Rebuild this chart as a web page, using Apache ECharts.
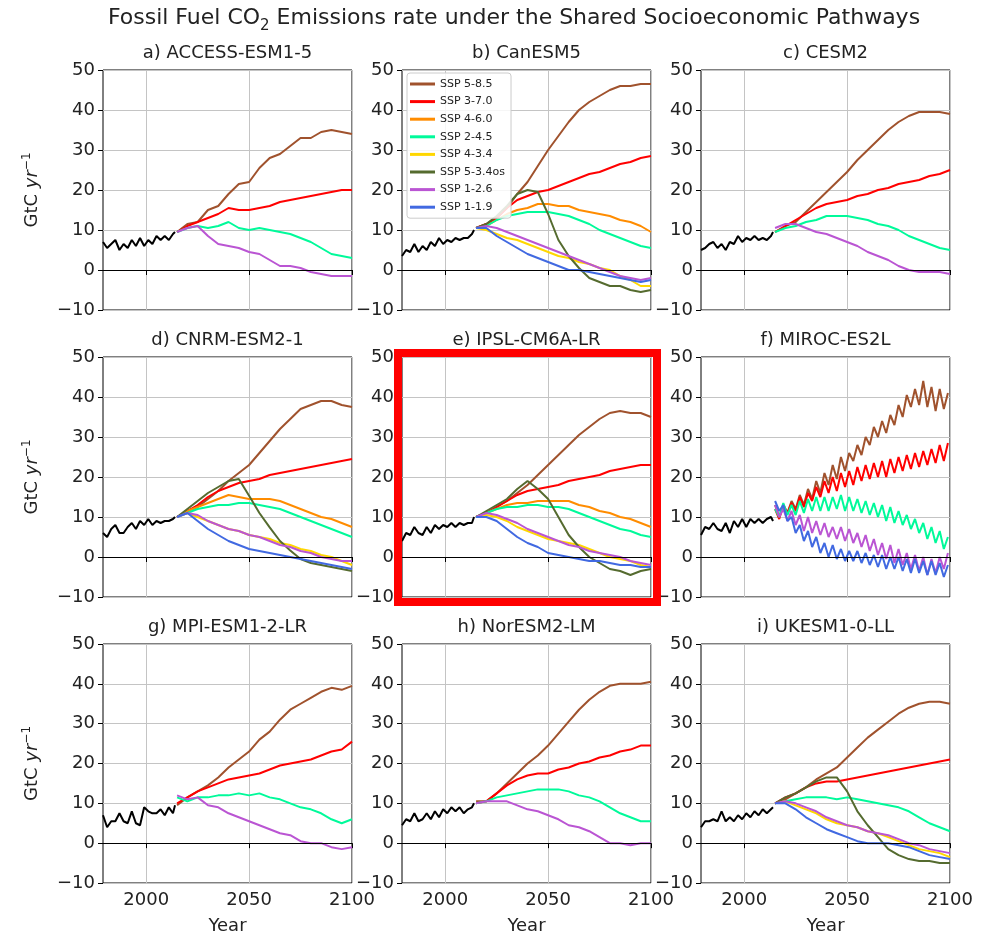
<!DOCTYPE html>
<html>
<head>
<meta charset="UTF-8">
<title>Fossil Fuel CO2 Emissions rate under the Shared Socioeconomic Pathways</title>
<script src="https://cdn.jsdelivr.net/npm/echarts@6/dist/echarts.min.js"></script>
</head>
<body style="margin:0;background:#fff;">
<div id="container" style="width:986px;height:936px;"></div>
<script>
// scenarios, in legend order
const scenarioNames = ['SSP 5-8.5', 'SSP 3-7.0', 'SSP 4-6.0', 'SSP 2-4.5', 'SSP 4-3.4', 'SSP 5-3.4os', 'SSP 1-2.6', 'SSP 1-1.9'];
const scenarioColors = ['#a0522d', '#ff0000', '#ff8c00', '#00fa9a', '#ffd700', '#556b2f', '#ba55d3', '#4169e1'];

const xTicks = [2000, 2050, 2100];

const histYears = [1979, 1981, 1983, 1985, 1987, 1989, 1991, 1993, 1995, 1997, 1999, 2001, 2003, 2005, 2007, 2009, 2011, 2013, 2014];
const futYears = [2015, 2020, 2025, 2030, 2035, 2040, 2045, 2050, 2055, 2060, 2065, 2070, 2075, 2080, 2085, 2090, 2095, 2100];
const mirocYears = [2015, 2017, 2019, 2021, 2023, 2025, 2027, 2029, 2031, 2033, 2035, 2037, 2039, 2041, 2043, 2045, 2047, 2049, 2051, 2053, 2055, 2057, 2059, 2061, 2063, 2065, 2067, 2069, 2071, 2073, 2075, 2077, 2079, 2081, 2083, 2085, 2087, 2089, 2091, 2093, 2095, 2097, 2099];

// a) ACCESS-ESM1-5
const accessHist = [7, 5.5, 6.5, 7.5, 5, 6.5, 5.5, 7.5, 6, 8, 6, 7.5, 6.5, 8.5, 7.5, 8.5, 7.5, 9, 9.5];
const access585 = [9.5, 11.5, 12, 15, 16, 19, 21.5, 22, 25.5, 28, 29, 31, 33, 33, 34.5, 35, 34.5, 34];
const access370 = [9.5, 11, 12, 13, 14, 15.5, 15, 15, 15.5, 16, 17, 17.5, 18, 18.5, 19, 19.5, 20, 20];
const access245 = [9.5, 10.5, 11, 10.5, 11, 12, 10.5, 10, 10.5, 10, 9.5, 9, 8, 7, 5.5, 4, 3.5, 3];
const access126 = [9.5, 10.5, 11, 8.5, 6.5, 6, 5.5, 4.5, 4, 2.5, 1, 1, 0.5, -0.5, -1, -1.5, -1.5, -1.5];

// b) CanESM5
const canesmHist = [3.5, 5, 4.5, 6.5, 4.5, 6, 5, 7, 6, 8, 6.5, 7.5, 7, 8, 7.5, 8, 8, 9, 10];
const canesm585 = [10.5, 11.5, 13, 15.5, 19, 22, 26, 30, 33.5, 37, 40, 42, 43.5, 45, 46, 46, 46.5, 46.5];
const canesm370 = [10.5, 11.5, 13, 15.5, 17.5, 18.5, 19.5, 20, 21, 22, 23, 24, 24.5, 25.5, 26.5, 27, 28, 28.5];
const canesm460 = [10.5, 11, 12.5, 14, 15, 15.5, 16.5, 16.5, 16, 16, 15, 14.5, 14, 13.5, 12.5, 12, 11, 9.5];
const canesm245 = [10.5, 11, 12.5, 13.5, 14, 14.5, 14.5, 14.5, 14, 13.5, 12.5, 11.5, 10, 9, 8, 7, 6, 5.5];
const canesm434 = [10.5, 10, 9, 8, 7.5, 6.5, 5.5, 4.5, 3.5, 3, 2, 1.5, 0.5, 0, -1.5, -2.5, -4, -4];
const canesm534 = [10.5, 11.5, 13.5, 16, 19, 20, 19.5, 14, 7.5, 3.5, 0.5, -2, -3, -4, -4, -5, -5.5, -5];
const canesm126 = [10.5, 11, 10.5, 9.5, 8.5, 7.5, 6.5, 5.5, 4.5, 3.5, 2.5, 1.5, 0.5, -0.5, -1.5, -2, -2.5, -2];
const canesm119 = [10.5, 10.5, 8.5, 7, 5.5, 4, 3, 2, 1, 0, 0, -0.5, -1, -1.5, -2, -2.5, -3, -2.5];

// c) CESM2
const cesmHist = [5, 5.5, 6.5, 7, 5.5, 6.5, 5, 7, 6.5, 8.5, 7, 8, 7.5, 8.5, 7.5, 8, 7.5, 8.5, 9.5];
const cesm585 = [9.5, 11, 12, 14.5, 17, 19.5, 22, 24.5, 27.5, 30, 32.5, 35, 37, 38.5, 39.5, 39.5, 39.5, 39];
const cesm370 = [9.5, 11, 12.5, 14, 15.5, 16.5, 17, 17.5, 18.5, 19, 20, 20.5, 21.5, 22, 22.5, 23.5, 24, 25];
const cesm245 = [9.5, 10.5, 11, 12, 12.5, 13.5, 13.5, 13.5, 13, 12.5, 11.5, 11, 10, 8.5, 7.5, 6.5, 5.5, 5];
const cesm126 = [10.5, 11.5, 11.5, 10.5, 9.5, 9, 8, 7, 6, 4.5, 3.5, 2.5, 1, 0, -0.5, -0.5, -0.5, -1];

// d) CNRM-ESM2-1
const cnrmHist = [6, 5, 7, 8, 6, 6, 7.5, 8.5, 7, 9, 8, 9.5, 8, 9, 8.5, 9, 9, 9.5, 10];
const cnrm585 = [10, 11.5, 12.5, 14.5, 16.5, 19, 21, 23, 26, 29, 32, 34.5, 37, 38, 39, 39, 38, 37.5];
const cnrm370 = [10, 11.5, 13, 15, 16.5, 17.5, 18.5, 19, 19.5, 20.5, 21, 21.5, 22, 22.5, 23, 23.5, 24, 24.5];
const cnrm460 = [10, 11.5, 12.5, 13.5, 14.5, 15.5, 15, 14.5, 14.5, 14.5, 14, 13, 12, 11, 10, 9.5, 8.5, 7.5];
const cnrm245 = [10, 11, 12, 12.5, 13, 13, 13.5, 13.5, 13, 12.5, 12, 11, 10, 9, 8, 7, 6, 5];
const cnrm434 = [10, 11, 10, 9, 8, 7, 6.5, 5.5, 5, 4.5, 3.5, 3, 2, 1.5, 0.5, 0, -1, -2];
const cnrm534 = [10, 12, 14, 16, 17.5, 19, 19.5, 15.3, 11, 7.4, 4, 1.6, -0.5, -1.5, -2, -2.5, -3, -3.5];
const cnrm126 = [10, 11, 10.5, 9, 8, 7, 6.5, 5.5, 5, 4, 3, 2.5, 1.5, 1, 0, -0.5, -1, -1];
const cnrm119 = [10, 11, 9, 7, 5.5, 4, 3, 2, 1.5, 1, 0.5, 0, -0.5, -1, -1.5, -2, -2.5, -3];

// e) IPSL-CM6A-LR
const ipslHist = [4, 6, 5.5, 7.5, 6, 5.5, 7.5, 6, 8, 7, 8, 7.5, 8.5, 7.5, 8.5, 8, 8.5, 8.5, 10];
const ipsl585 = [10, 11, 12.5, 14, 16, 18, 20.5, 23, 25.5, 28, 30.5, 32.5, 34.5, 36, 36.5, 36, 36, 35];
const ipsl370 = [10, 11, 12.5, 14, 15.5, 16.5, 17, 17.5, 18, 19, 19.5, 20, 20.5, 21.5, 22, 22.5, 23, 23];
const ipsl460 = [10, 11, 12, 13, 13.5, 13.5, 14, 14, 14, 14, 13, 12.5, 11.5, 11, 10, 9.5, 8.5, 7.5];
const ipsl245 = [10, 11, 12, 12.5, 12.5, 13, 13, 12.5, 12.5, 12, 11, 10, 9, 8, 7, 6.5, 5.5, 5];
const ipsl434 = [10, 10.5, 10, 9, 7.5, 6.5, 5.5, 4.5, 4, 3.5, 3, 2, 1, 0, -0.5, -1, -2, -2.5];
const ipsl534 = [10, 11.5, 13, 14.5, 17, 19, 17, 14.5, 10, 5.5, 2.5, 0, -1.5, -3, -3.5, -4.5, -3.5, -3];
const ipsl126 = [10, 11, 10.5, 9.5, 8.5, 7, 6, 5, 4, 3, 2.5, 1.5, 1, 0.5, 0, -1, -1.5, -2];
const ipsl119 = [10, 10, 9, 7, 5, 3.5, 2.5, 1, 0.5, 0, -0.5, -1, -1, -1.5, -2, -2, -2.5, -2.5];

// f) MIROC-ES2L (every second year, strong oscillation)
const mirocHist = [5.5, 7.5, 7, 8.5, 7, 6.5, 8.5, 6, 9, 7.5, 9.5, 7.5, 9.5, 8.5, 9.5, 8.5, 9.5, 10, 9];
const miroc585 = [13, 10, 13, 11, 14, 12, 15.5, 13, 17, 14.5, 19, 16, 21, 18, 23, 19.5, 25, 21.5, 26, 24, 28, 25.5, 30, 28, 32.5, 30, 34, 31, 35.5, 33, 38, 35, 40.5, 37.5, 42, 38, 44, 37.5, 42.5, 36.5, 42, 37, 41];
const miroc370 = [12, 9.5, 13, 11, 13.5, 11.5, 15, 12.5, 16, 14, 17.5, 15, 19, 16, 20, 16.5, 21, 17.5, 21.5, 18, 22.5, 19, 23, 19.5, 23.5, 20, 24, 20, 24.5, 21, 25, 21.5, 25.5, 22, 26, 22.5, 26.5, 23, 27, 23.5, 28, 24, 28.5];
const miroc245 = [12, 10, 13.5, 10.5, 13, 10.5, 14, 11, 14.5, 11.5, 15, 11.5, 15, 11.5, 15, 12, 15.5, 11.5, 15, 11.5, 14.5, 11, 14, 10.5, 13.5, 10, 13, 9, 12.5, 8.5, 11.5, 8, 10.5, 7, 9.5, 6, 8.5, 4.5, 7.5, 3.5, 6.5, 2, 5];
const miroc126 = [13, 10, 12, 9, 11.5, 8, 10.5, 6.5, 10, 6, 9, 5.5, 8.5, 5, 7.5, 4.5, 7.5, 4, 7, 3.5, 6, 2.5, 5.5, 1.5, 4.5, 0.5, 3.5, -0.5, 3, -1.5, 2, -2, 1, -3, 0.5, -3.5, 0, -4.5, -0.5, -4, 0, -3, 1];
const miroc119 = [14, 11.5, 13, 9, 10, 6, 8, 4, 6.5, 2.5, 5, 1, 3.5, 0, 3, -0.5, 2, -1, 1.5, -1, 1.5, -1.5, 1, -2, 0.5, -2.5, 0.5, -3, 0, -3, 0, -3.5, -0.5, -4, -0.5, -4, -1, -4.5, -1, -4.5, -1.5, -5, -2];

// g) MPI-ESM1-2-LR
const mpiHist = [7, 4, 5.5, 5.5, 7.5, 5.5, 5, 8, 5, 4.5, 9, 8, 7.5, 7.5, 8.5, 7, 9, 7.5, 9.5];
const mpi585 = [9.5, 11.5, 13, 14.5, 16.5, 19, 21, 23, 26, 28, 31, 33.5, 35, 36.5, 38, 39, 38.5, 39.5];
const mpi370 = [10, 11.5, 13, 14, 15, 16, 16.5, 17, 17.5, 18.5, 19.5, 20, 20.5, 21, 22, 23, 23.5, 25.5];
const mpi245 = [11.5, 10.5, 11.5, 11.5, 12, 12, 12.5, 12, 12.5, 11.5, 11, 10, 9, 8.5, 7.5, 6, 5, 6];
const mpi126 = [12, 11, 11.5, 9.5, 9, 7.5, 6.5, 5.5, 4.5, 3.5, 2.5, 2, 0.5, 0, 0, -1, -1.5, -1];

// h) NorESM2-LM
const noresmHist = [4.5, 6, 5.5, 7.5, 5.5, 6, 7.5, 6, 8, 6.5, 8.5, 7.5, 9, 8, 9, 7.5, 8.5, 9, 10];
const noresm585 = [10.5, 10.5, 12.5, 15, 17.5, 20, 22, 24.5, 27.5, 30.5, 33.5, 36, 38, 39.5, 40, 40, 40, 40.5];
const noresm370 = [10, 10.5, 12.5, 14.5, 16, 17, 17.5, 17.5, 18.5, 19, 20, 20.5, 21.5, 22, 23, 23.5, 24.5, 24.5];
const noresm245 = [10, 10.5, 11.5, 12, 12.5, 13, 13.5, 13.5, 13.5, 13, 12, 11.5, 10.5, 9, 7.5, 6.5, 5.5, 5.5];
const noresm126 = [10, 10.5, 10.5, 10.5, 9.5, 8.5, 8, 7, 6, 4.5, 4, 3, 1.5, 0, 0, -0.5, 0, 0];

// i) UKESM1-0-LL
const ukesmHist = [4, 5.5, 5.5, 6, 5.5, 8, 5.5, 6.5, 5.5, 7, 6, 7.5, 6.5, 8, 7, 8.5, 7.5, 8.5, 9];
const ukesm585 = [10, 11, 12.5, 14, 16, 17.5, 19, 21.5, 24, 26.5, 28.5, 30.5, 32.5, 34, 35, 35.5, 35.5, 35];
const ukesm370 = [10, 11.5, 12.5, 14, 15, 15.5, 15.5, 16, 16.5, 17, 17.5, 18, 18.5, 19, 19.5, 20, 20.5, 21];
const ukesm245 = [10, 10.5, 11, 11.5, 11.5, 11.5, 11, 11.5, 11, 10.5, 10, 9.5, 9, 8, 6.5, 5, 4, 3];
const ukesm434 = [10, 10.5, 9.5, 8.5, 7.5, 6, 5, 4.5, 4, 3, 2.5, 1.5, 0.5, -0.5, -1.5, -2, -2.5, -3.5];
const ukesm534 = [10, 11.5, 12.5, 14, 15.5, 16.5, 16.5, 13, 8, 4.5, 1.5, -1.5, -3, -4, -4.5, -4.5, -5, -5];
const ukesm126 = [10, 10.5, 10, 9, 8, 6.5, 5.5, 4.5, 4, 3, 2.5, 2, 1, 0, -0.5, -1.5, -2, -2.5];
const ukesm119 = [10, 10, 8.5, 6.5, 5, 3.5, 2.5, 1.5, 0.5, 0, 0, 0, -0.5, -1, -2, -3, -3.5, -4];

// runs listed in scenarioNames order, null where the model has no run
const panels = [
  { title: 'a) ACCESS-ESM1-5', hist: accessHist, years: futYears, runs: [access585, access370, null, access245, null, null, access126, null] },
  { title: 'b) CanESM5', hist: canesmHist, years: futYears, runs: [canesm585, canesm370, canesm460, canesm245, canesm434, canesm534, canesm126, canesm119] },
  { title: 'c) CESM2', hist: cesmHist, years: futYears, runs: [cesm585, cesm370, null, cesm245, null, null, cesm126, null] },
  { title: 'd) CNRM-ESM2-1', hist: cnrmHist, years: futYears, runs: [cnrm585, cnrm370, cnrm460, cnrm245, cnrm434, cnrm534, cnrm126, cnrm119] },
  { title: 'e) IPSL-CM6A-LR', hist: ipslHist, years: futYears, runs: [ipsl585, ipsl370, ipsl460, ipsl245, ipsl434, ipsl534, ipsl126, ipsl119] },
  { title: 'f) MIROC-ES2L', hist: mirocHist, years: mirocYears, runs: [miroc585, miroc370, null, miroc245, null, null, miroc126, miroc119] },
  { title: 'g) MPI-ESM1-2-LR', hist: mpiHist, years: futYears, runs: [mpi585, mpi370, null, mpi245, null, null, mpi126, null] },
  { title: 'h) NorESM2-LM', hist: noresmHist, years: futYears, runs: [noresm585, noresm370, null, noresm245, null, null, noresm126, null] },
  { title: 'i) UKESM1-0-LL', hist: ukesmHist, years: futYears, runs: [ukesm585, ukesm370, null, ukesm245, ukesm434, ukesm534, ukesm126, ukesm119] }
];

const FONT = 'DejaVu Sans';
const colLeft = [103, 402, 701];
const rowTop = [70, 357, 644];
const W = 249, H = 240;

const chart = echarts.init(document.getElementById('container'), null, { renderer: 'canvas' });

const grids = [], xAxes = [], yAxes = [], series = [], graphics = [];
const minus = function (v) { return String(v).replace('-', '\u2212'); };

panels.forEach(function (p, k) {
  const row = Math.floor(k / 3), col = k % 3;
  grids.push({
    left: colLeft[col], top: rowTop[row], width: W, height: H,
    show: true, borderColor: '#000', borderWidth: 1, backgroundColor: 'transparent'
  });
  xAxes.push({
    type: 'value', gridIndex: k, min: 1979, max: 2100,
    axisLine: { show: false },
    axisTick: { show: true, length: 5, lineStyle: { color: '#000' }, customValues: xTicks },
    axisLabel: {
      show: row === 2, customValues: xTicks, fontSize: 18, color: '#222', fontFamily: FONT, margin: 8,
      formatter: function (v) { return String(v); }
    },
    splitLine: { show: true, lineStyle: { color: '#c4c4c4', width: 1 } },
    name: row === 2 ? 'Year' : '', nameLocation: 'middle', nameGap: 34,
    nameTextStyle: { fontSize: 18, color: '#222', fontFamily: FONT }
  });
  yAxes.push({
    type: 'value', gridIndex: k, min: -10, max: 50, interval: 10,
    axisLine: { show: false },
    axisTick: { show: true, length: 5, lineStyle: { color: '#000' } },
    axisLabel: { fontSize: 18, color: '#222', fontFamily: FONT, margin: 8, formatter: minus },
    splitLine: { show: true, lineStyle: { color: '#c4c4c4', width: 1 } },
    name: col === 0 ? '{a|GtC }{b|yr}{c|\u22121}' : '', nameLocation: 'middle', nameGap: 60,
    nameTextStyle: {
      color: '#222', fontFamily: FONT,
      rich: {
        a: { fontSize: 18, fontFamily: FONT, color: '#222' },
        b: { fontSize: 18, fontFamily: FONT, fontStyle: 'italic', color: '#222' },
        c: { fontSize: 12, fontFamily: FONT, color: '#222', verticalAlign: 'top', lineHeight: 22 }
      }
    }
  });

  series.push({
    type: 'line', name: 'Historical', xAxisIndex: k, yAxisIndex: k,
    data: histYears.map(function (y, i) { return [y, p.hist[i]]; }),
    color: '#000', symbol: 'none', lineStyle: { width: 2, color: '#000' },
    markLine: {
      silent: true, symbol: ['none', 'none'], label: { show: false },
      lineStyle: { color: '#000', width: 1, type: 'solid' },
      data: [{ yAxis: 0 }]
    }
  });
  p.runs.forEach(function (vals, s) {
    if (!vals) return;
    series.push({
      type: 'line', name: scenarioNames[s], xAxisIndex: k, yAxisIndex: k,
      data: p.years.map(function (y, i) { return [y, vals[i]]; }),
      color: scenarioColors[s], symbol: 'none',
      lineStyle: { width: 2, color: scenarioColors[s] }
    });
  });

  graphics.push({
    type: 'text', x: colLeft[col] + W / 2, y: rowTop[row] - 17,
    style: {
      text: p.title, fontSize: 18, fontFamily: FONT, fill: '#222',
      align: 'center', verticalAlign: 'middle', textAlign: 'center', textVerticalAlign: 'middle'
    }
  });
});

// suptitle
graphics.push({
  type: 'text', x: 514, y: 18,
  style: {
    text: 'Fossil Fuel CO{s|2} Emissions rate under the Shared Socioeconomic Pathways',
    fontSize: 22, fontFamily: FONT, fill: '#222',
    align: 'center', verticalAlign: 'middle', textAlign: 'center', textVerticalAlign: 'middle',
    rich: { s: { fontSize: 15, fontFamily: FONT, fill: '#222', verticalAlign: 'bottom', lineHeight: 31 } }
  }
});

// red highlight box around panel e
graphics.push({
  type: 'rect', z: 100,
  shape: { x: 398, y: 353, width: 259, height: 249 },
  style: { fill: 'none', stroke: '#ff0000', lineWidth: 8 }
});

const option = {
  animation: false,
  backgroundColor: '#fff',
  grid: grids,
  xAxis: xAxes,
  yAxis: yAxes,
  legend: {
    orient: 'vertical', left: 407, top: 73,
    data: scenarioNames, icon: 'rect', itemWidth: 25, itemHeight: 3, itemGap: 5.6,
    selectedMode: false,
    textStyle: { fontSize: 11, fontFamily: FONT, color: '#222', lineHeight: 12 },
    backgroundColor: 'rgba(255,255,255,0.85)', borderColor: '#cccccc', borderWidth: 1, borderRadius: 3,
    padding: [5, 6, 5, 3]
  },
  series: series,
  graphic: { elements: graphics }
};

chart.setOption(option);
</script>
</body>
</html>
